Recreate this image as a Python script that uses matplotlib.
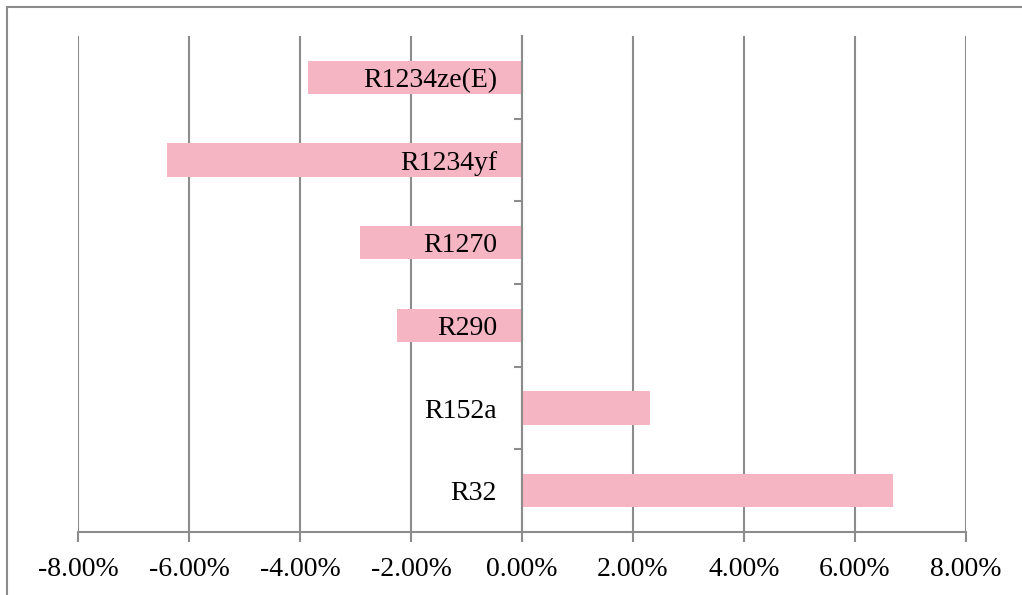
import matplotlib
matplotlib.use("Agg")
from matplotlib import pyplot as plt
from matplotlib.patches import Rectangle
from matplotlib.ticker import FuncFormatter

# dados (de baixo para cima)
refrigerantes = ["R32", "R152a", "R290", "R1270", "R1234yf", "R1234ze(E)"]
variacao = [6.68, 2.31, -2.25, -2.92, -6.40, -3.86]  # em %
xticks = [-8, -6, -4, -2, 0, 2, 4, 6, 8]

cinza = "#8c8c8c"
rosa = "#F6B5C3"
plt.rcParams["font.family"] = ["Liberation Serif", "DejaVu Serif"]

fig = plt.figure(figsize=(10.22, 5.95), dpi=100)
ax = fig.add_axes([78 / 1022, 1 - 532 / 595, (966 - 78) / 1022, (532 - 36) / 595])

# moldura externa
fig.patches.append(Rectangle((7 / 1022, -0.1), 1.2, 1 - 7 / 595 + 0.1, transform=fig.transFigure,
                             fill=False, edgecolor=cinza, linewidth=1.5))

# grade vertical atrás das barras, rótulos por cima
for v in xticks:
    ax.axvline(v, color=cinza, linewidth=1.5, zorder=0.5)

y = range(len(refrigerantes))
ax.barh(y, variacao, height=0.4, color=rosa, zorder=1)

ax.set_xlim(-8, 8)
ax.set_ylim(-0.5, len(refrigerantes) - 0.5)
ax.set_xticks(xticks)
ax.xaxis.set_major_formatter(FuncFormatter(lambda v, p: "%.2f%%" % v))

ax.set_yticks(list(y))
ax.set_yticklabels(refrigerantes)
ax.set_yticks([i + 0.5 for i in range(len(refrigerantes) - 1)], minor=True)
ax.tick_params(axis="y", which="major", length=0, pad=18, labelsize=20)
ax.tick_params(axis="y", which="minor", length=6, width=1.5, color=cinza, direction="out")
ax.tick_params(axis="x", length=7, width=1.5, color=cinza, pad=11, labelsize=20)

ax.spines["left"].set_position(("data", 0))
ax.spines["left"].set_color(cinza)
ax.spines["left"].set_linewidth(1.5)
ax.spines["bottom"].set_color(cinza)
ax.spines["bottom"].set_linewidth(1.5)
ax.spines["top"].set_visible(False)
ax.spines["right"].set_visible(False)

plt.savefig("out.png", dpi=100)
